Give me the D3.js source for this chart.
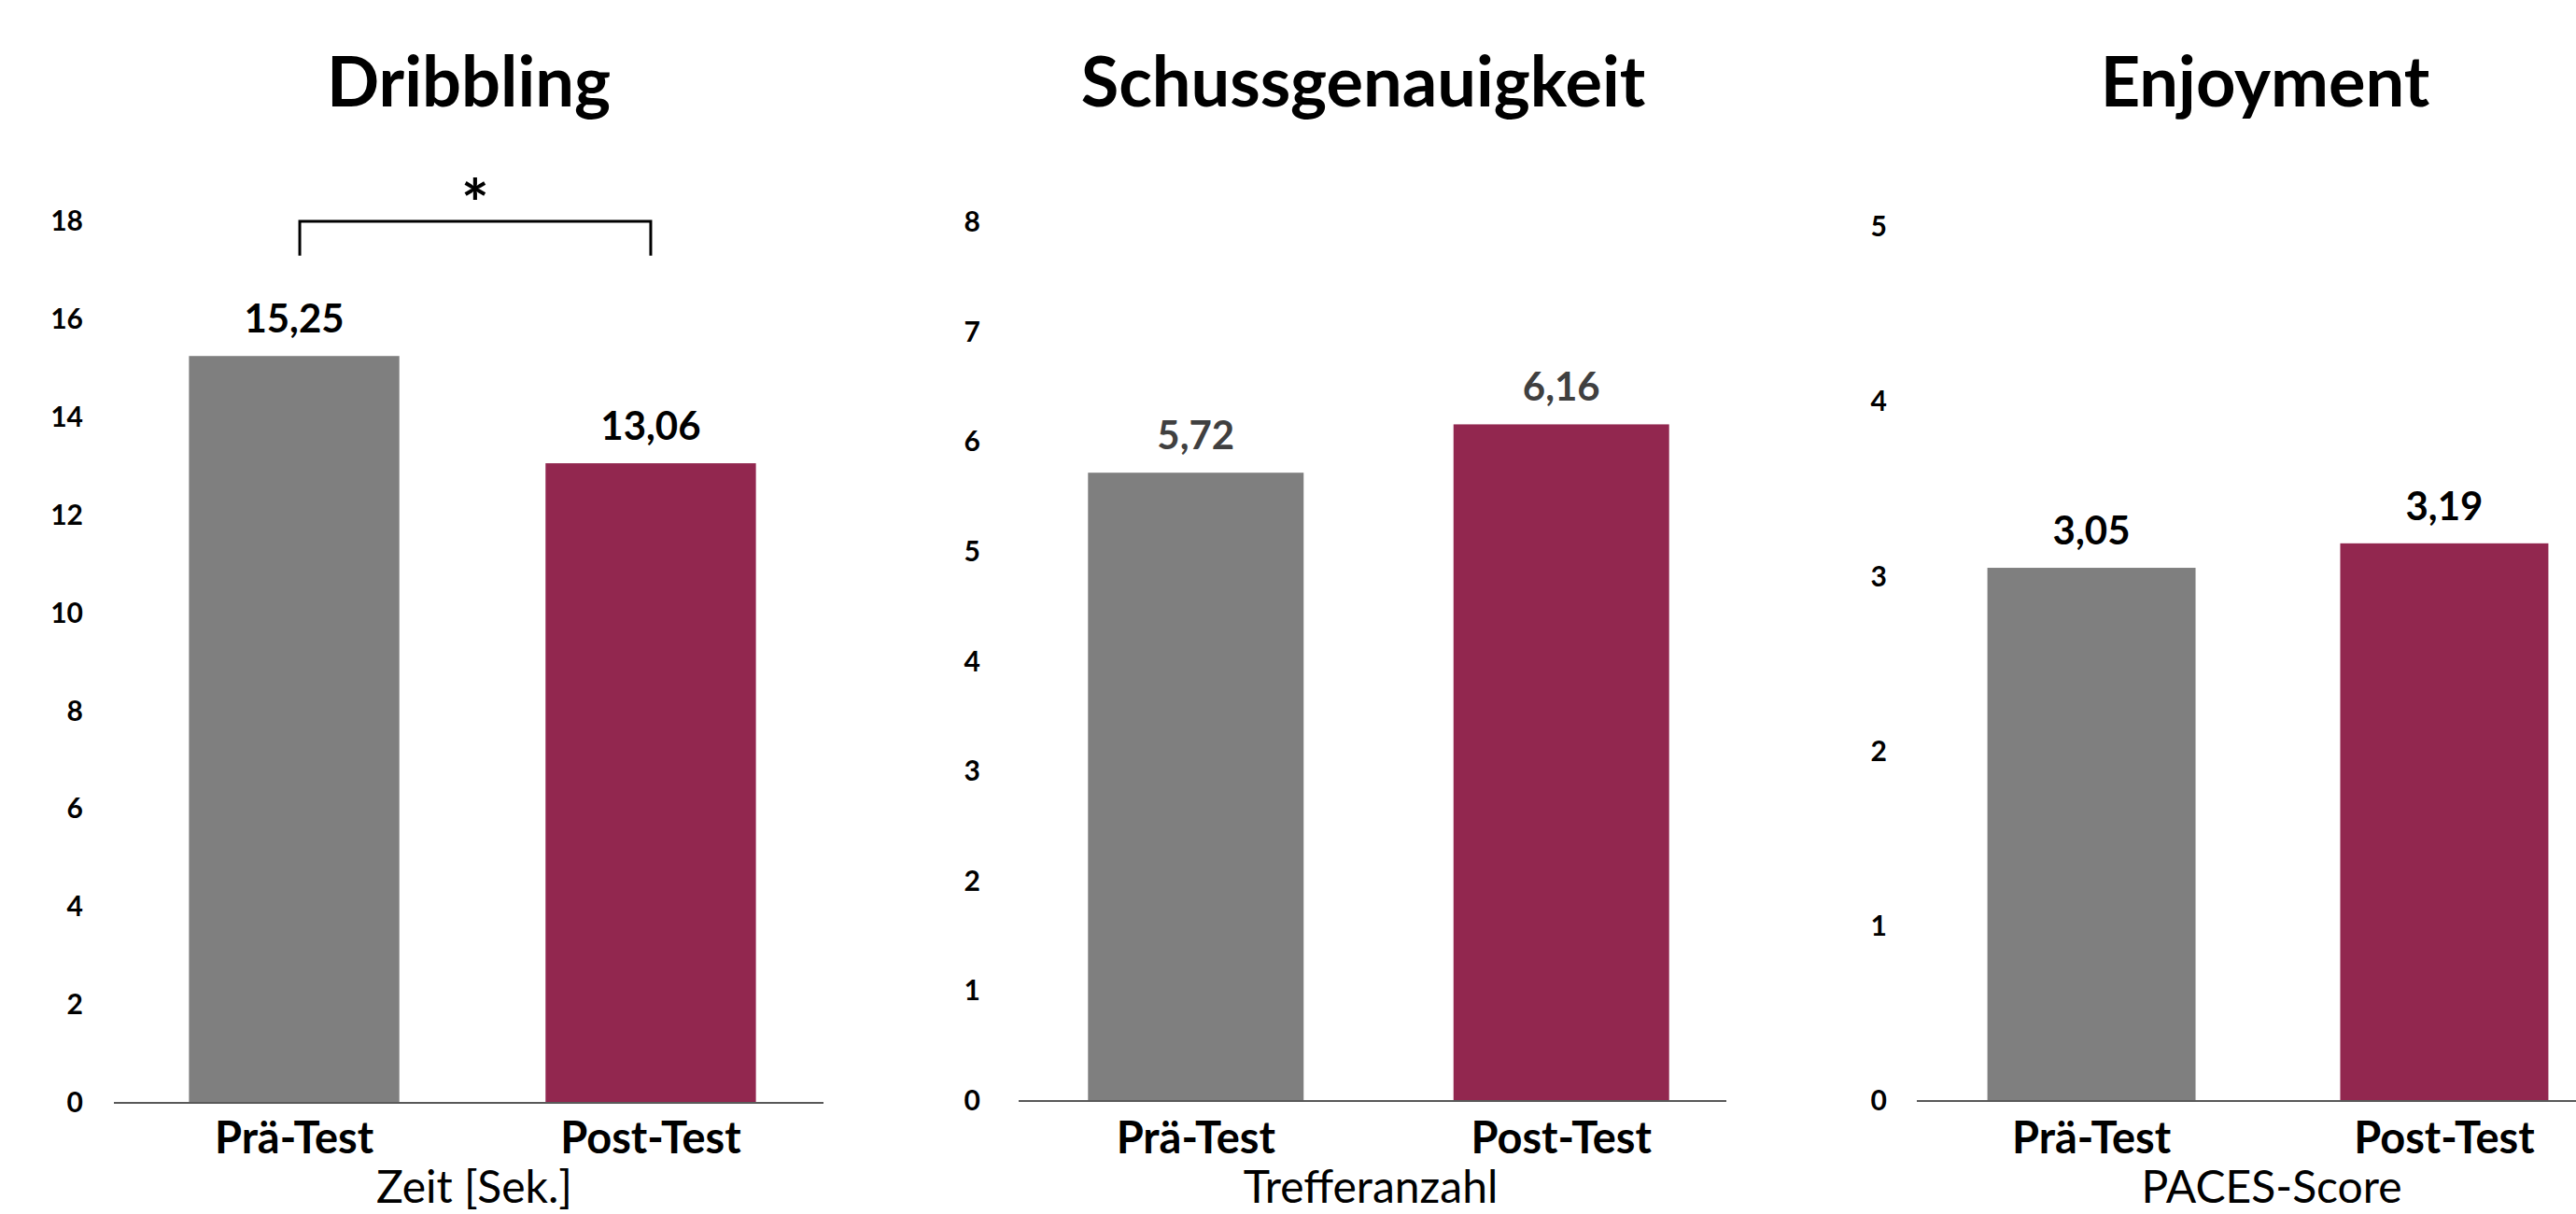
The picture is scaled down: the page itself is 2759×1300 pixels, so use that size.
<!DOCTYPE html>
<head>
<meta charset="utf-8">
<title>Dribbling / Schussgenauigkeit / Enjoyment</title>
<script src="https://d3js.org/d3.v7.min.js"></script>
<style>
  body { margin: 0; background: #fff; }
  text { font-family: Lato, "Noto Sans", sans-serif; }
</style>
</head>
<body>
<div id="container"></div>
<script>
//---------------------------DATA-------------------------------//
const categories = ["Prä-Test", "Post-Test"];
const panelTitles = ["Dribbling", "Schussgenauigkeit", "Enjoyment"];
const axisTitles = ["Zeit [Sek.]", "Trefferanzahl", "PACES-Score"];
const dribblingValues = [15.25, 13.06];
const schussValues = [5.72, 6.16];
const enjoymentValues = [3.05, 3.19];
const yMax = [18, 8, 5];
const yTickStep = [2, 1, 1];
// significance bracket on the first panel only
const dribblingSig = { from: "Prä-Test", to: "Post-Test", y: 18, drop: 0.7, label: "*" };

const barColors = ["#7f7f7f", "#92274f"];
const labelColors = ["#000", "#404040", "#000"];

//---------------------------LAYOUT-----------------------------//
const width = 2759;
const height = 1300;

// pixel layout of each panel
const panels = [
  { values: dribblingValues, axis: [122, 882], band: [126, 886], y: [1181, 237], tickX: 89, titleX: 502, axisTitleX: 508 },
  { values: schussValues, axis: [1091, 1849], band: [1087, 1866], y: [1179, 238], tickX: 1050, titleX: 1460, axisTitleX: 1468 },
  { values: enjoymentValues, axis: [2053, 2805], band: [2053, 2805], y: [1179, 243], tickX: 2021, titleX: 2426, axisTitleX: 2433 }
];

const svg = d3.select("#container").append("svg")
    .attr("width", width)
    .attr("height", height)
    .style("display", "block");

svg.append("rect").attr("width", width).attr("height", height).attr("fill", "#fff");

panels.forEach(function(p, i) {
  const g = svg.append("g");

  const x = d3.scaleBand()
      .domain(categories)
      .range(p.band)
      .paddingInner(0.41)
      .paddingOuter(0.2);

  const y = d3.scaleLinear()
      .domain([0, yMax[i]])
      .range(p.y);

  //---- y tick labels (no axis line, no tick marks)
  const ticks = d3.range(0, yMax[i] + 0.001, yTickStep[i]);
  const yaxis = d3.axisLeft(y)
      .tickValues(ticks)
      .tickSize(0)
      .tickPadding(0)
      .tickFormat(d3.format("d"));

  g.append("g")
      .attr("transform", "translate(" + p.tickX + ",0)")
      .call(yaxis)
      .call(s => s.select(".domain").remove())
      .call(s => s.selectAll("text")
          .attr("fill", "#000")
          .style("font-family", "Lato, 'Noto Sans', sans-serif")
          .style("font-size", "30px")
          .style("font-weight", "bold"));

  //---- bars
  g.selectAll(".bar")
      .data(p.values)
      .join("rect")
      .attr("class", "bar")
      .attr("x", (d, j) => x(categories[j]))
      .attr("width", x.bandwidth())
      .attr("y", d => y(d))
      .attr("height", d => y(0) - y(d))
      .attr("fill", (d, j) => barColors[j]);

  //---- baseline
  g.append("line")
      .attr("x1", p.axis[0])
      .attr("x2", p.axis[1])
      .attr("y1", y(0))
      .attr("y2", y(0))
      .attr("stroke", "#595959")
      .attr("stroke-width", 2);

  //---- value labels
  g.selectAll(".val")
      .data(p.values)
      .join("text")
      .attr("class", "val")
      .attr("x", (d, j) => x(categories[j]) + x.bandwidth() / 2)
      .attr("y", d => y(d) - 25)
      .attr("text-anchor", "middle")
      .attr("fill", labelColors[i])
      .style("font-size", "42px")
      .style("font-weight", "bold")
      .text(d => d3.format(".2f")(d).replace(".", ","));

  //---- category labels
  g.selectAll(".cat")
      .data(categories)
      .join("text")
      .attr("class", "cat")
      .attr("x", d => x(d) + x.bandwidth() / 2)
      .attr("y", 1235)
      .attr("text-anchor", "middle")
      .attr("fill", "#000")
      .style("font-size", "47px")
      .style("font-weight", "bold")
      .text(d => d);

  //---- axis title
  g.append("text")
      .attr("x", p.axisTitleX)
      .attr("y", 1288)
      .attr("text-anchor", "middle")
      .attr("fill", "#000")
      .style("font-size", "48px")
      .text(axisTitles[i]);

  //---- panel title
  g.append("text")
      .attr("x", p.titleX)
      .attr("y", 114)
      .attr("text-anchor", "middle")
      .attr("fill", "#000")
      .style("font-size", "74px")
      .style("font-weight", "bold")
      .text(panelTitles[i]);

  //---- significance bracket
  if (i === 0) {
    const s = dribblingSig;
    const xa = x(s.from) + x.bandwidth() / 2 + 6;
    const xb = x(s.to) + x.bandwidth() / 2;
    const yt = y(s.y), yb = y(s.y - s.drop);
    g.append("path")
        .attr("d", "M" + xa + "," + yb + "V" + yt + "H" + xb + "V" + yb)
        .attr("fill", "none")
        .attr("stroke", "#000")
        .attr("stroke-width", 3);
    g.append("text")
        .attr("x", (xa + xb) / 2)
        .attr("y", yt + 7)
        .attr("text-anchor", "middle")
        .attr("fill", "#000")
        .style("font-size", "70px")
        .style("font-weight", "bold")
        .text(s.label);
  }
});
</script>
</body>
